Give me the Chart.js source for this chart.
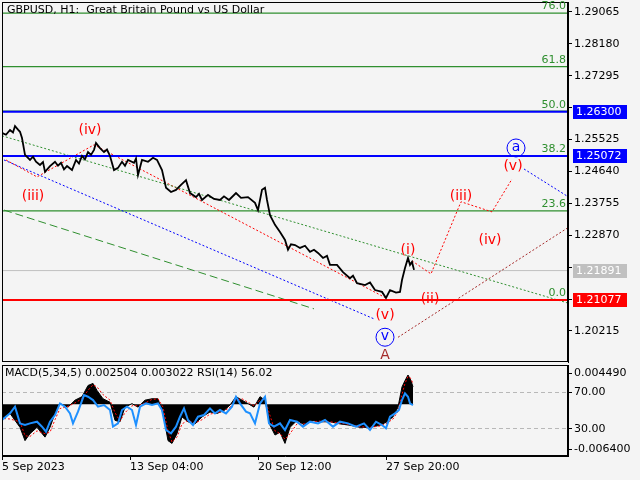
<!DOCTYPE html>
<html><head><meta charset="utf-8">
<script src="https://cdn.jsdelivr.net/npm/chart.js@4/dist/chart.umd.min.js"></script>
<style>
html,body{margin:0;padding:0;background:#f4f4f4;width:640px;height:480px;overflow:hidden}
canvas{position:absolute;left:0}
#c1{top:0}#c2{top:364px}
</style></head><body>
<canvas id="c1" width="640" height="364"></canvas>
<canvas id="c2" width="640" height="116"></canvas>
<script>
// ---- data ----
const priceX = [2,6,10,13,15,18,20,22,25,30,33,36,40,43,45,50,55,58,61,64,67,72,76,79,82,85,88,91,94,96,100,104,107,110,114,118,122,125,128,134,136,138,142,148,153,157,162,166,171,176,181,186,190,196,199,202,208,214,220,224,229,236,241,248,255,258,262,265,267,270,275,280,285,288,291,295,300,305,310,314,318,323,327,330,337,343,350,353,357,365,370,375,382,386,390,396,400,402,405,408,410,412,414];
const priceClose = [1.2571,1.2566,1.2579,1.2572,1.2590,1.2580,1.2574,1.2557,1.2510,1.2496,1.2505,1.2491,1.2482,1.2490,1.2463,1.2479,1.2491,1.2480,1.2488,1.2470,1.2479,1.2468,1.2496,1.2486,1.2507,1.2498,1.2518,1.2510,1.2524,1.2543,1.2529,1.2518,1.2525,1.2507,1.2468,1.2474,1.2491,1.2480,1.2496,1.2488,1.2500,1.2454,1.2496,1.2491,1.2502,1.2496,1.2468,1.2419,1.2407,1.2413,1.2427,1.2440,1.2404,1.2393,1.2402,1.2385,1.2399,1.2388,1.2385,1.2395,1.2385,1.2404,1.2391,1.2393,1.2377,1.2357,1.2413,1.2419,1.2385,1.2343,1.2316,1.2296,1.2274,1.2247,1.2262,1.2260,1.2252,1.2258,1.2241,1.2247,1.2238,1.2224,1.2230,1.2205,1.2205,1.2185,1.2168,1.2175,1.2154,1.2149,1.2156,1.2135,1.2130,1.2113,1.2135,1.2128,1.2130,1.2163,1.2196,1.2224,1.2205,1.2213,1.2191];
const fibLevels = [0,23.6,38.2,50,61.8,76];
const fibBase = 1.21077, fibTop = 1.31547;
const priceTicks = [1.29065,1.28180,1.27295,1.26410,1.25525,1.24640,1.23755,1.22870,1.21985,1.21100,1.20215];
const blueLevels = [1.26300,1.25072];
const redLevel = 1.21077;
const lastPrice = 1.21891;
const greenChannel = [[2,1.2563],[568,1.2099]];
const blueChannel = [[4,1.2496],[375,1.2054]];
const greenLong = [[4,1.2357],[314,1.2083]];
const waveRed = [[6,1.2496],[37,1.2449],[94,1.2538],[386,1.2113]];
const projRed = [[412,1.2216],[431,1.2180],[461,1.2380],[492,1.2352],[512,1.2443]];
const blueProj = [[524,1.2471],[567,1.2396]];
const darkRedProj = [[398,1.2004],[569,1.2310]];
const waveLabels = [
 {t:'(iv)',x:90,y:1.2579,c:'#ff0000'},{t:'(iii)',x:33,y:1.2396,c:'#ff0000'},
 {t:'(v)',x:385,y:1.2066,c:'#ff0000'},{t:'v',x:385,y:1.2007,c:'#0000ff',circ:true},
 {t:'A',x:385,y:1.1953,c:'#a52a2a'},{t:'(i)',x:408,y:1.2246,c:'#ff0000'},
 {t:'(ii)',x:430,y:1.2110,c:'#ff0000'},{t:'(iii)',x:461,y:1.2396,c:'#ff0000'},
 {t:'(iv)',x:490,y:1.2274,c:'#ff0000'},{t:'(v)',x:513,y:1.2477,c:'#ff0000'},
 {t:'a',x:516,y:1.2532,c:'#0000ff',circ:true}];
const lowX = [0,10,20,25,30,37,45,50,55,60,68,75,82,88,93,97,103,110,115,120,125,132,138,145,152,158,163,168,172,177,182,188,195,202,210,217,224,230,236,242,248,254,260,265,270,275,280,285,290,297,305,312,320,330,340,350,360,370,380,387,393,398,402,405,408,411,413];
const macdHist = [-0.0023,-0.0013,-0.0033,-0.0052,-0.0042,-0.0033,-0.0047,-0.0033,-0.0013,0.0001,-0.0004,0.0006,0.0011,0.0027,0.0030,0.0020,0.0008,0.0003,-0.0023,-0.0025,-0.0004,0.0001,-0.0004,0.0006,0.0008,0.0008,-0.0013,-0.0052,-0.0056,-0.0042,-0.0018,-0.0025,-0.0028,-0.0018,-0.0011,-0.0013,-0.0009,-0.0001,0.0011,0.0006,0.0001,-0.0004,0.0011,0.0006,-0.0030,-0.0044,-0.0040,-0.0056,-0.0033,-0.0023,-0.0030,-0.0023,-0.0025,-0.0025,-0.0028,-0.0030,-0.0033,-0.0033,-0.0030,-0.0025,-0.0018,-0.0004,0.0025,0.0034,0.0042,0.0034,0.0025];
const macdSignal = [-0.0020,-0.0021,-0.0025,-0.0045,-0.0046,-0.0038,-0.0042,-0.0040,-0.0022,-0.0006,-0.0003,0.0002,0.0008,0.0020,0.0028,0.0025,0.0014,0.0006,-0.0012,-0.0024,-0.0012,-0.0002,-0.0002,0.0002,0.0007,0.0008,-0.0004,-0.0038,-0.0054,-0.0047,-0.0028,-0.0023,-0.0027,-0.0022,-0.0014,-0.0012,-0.0010,-0.0004,0.0006,0.0008,0.0003,-0.0002,0.0006,0.0008,-0.0016,-0.0038,-0.0042,-0.0050,-0.0042,-0.0028,-0.0028,-0.0025,-0.0024,-0.0025,-0.0027,-0.0029,-0.0032,-0.0033,-0.0031,-0.0027,-0.0021,-0.0010,0.0014,0.0030,0.0040,0.0037,0.0029];
const rsiX = [2,10,15,20,25,30,37,42,46,50,55,60,65,70,73,78,84,88,93,98,104,110,113,118,122,127,132,136,140,146,152,158,162,166,171,176,180,184,188,193,198,204,210,215,220,226,232,236,240,246,250,255,260,265,269,274,280,285,290,297,303,310,318,325,333,340,348,356,364,370,376,382,386,390,395,399,402,405,408,410,413];
const rsiVals = [39.7,46.9,54.1,36.1,34.3,36.1,37.9,32.5,27.1,37.9,45.1,57.7,54.1,46.9,36.1,48.7,66.7,64.9,61.3,54.1,55.9,50.5,32.5,36.1,50.5,54.1,50.5,34.3,54.1,57.7,55.9,57.7,50.5,28.9,25.3,32.5,43.3,52.3,39.7,34.3,43.3,45.1,52.3,46.9,50.5,46.9,54.1,64.9,57.7,48.7,46.9,36.1,57.7,64.9,36.1,32.5,36.1,28.9,39.7,37.9,32.5,37.9,36.1,39.7,32.5,37.9,36.1,32.5,36.1,28.9,37.9,34.3,30.7,43.3,46.9,50.5,61.3,68.5,64.9,57.7,55.9];
const dateTicks = [2,130,258,386];
const dateLabels = ['5 Sep 2023','13 Sep 04:00','20 Sep 12:00','27 Sep 20:00'];
const title = 'GBPUSD, H1:  Great Britain Pound vs US Dollar';
const subTitle = 'MACD(5,34,5) 0.002504 0.003022 RSI(14) 56.02';

// ---- rendering ----
const FONT = '"DejaVu Sans", sans-serif';
Chart.defaults.font.family = FONT;
Chart.defaults.font.size = 10;
Chart.defaults.color = '#000';
const pts = a => a.map(p => ({x:p[0], y:p[1]}));
const hline = (v,col,w,ord) => ({data:[{x:2,y:v},{x:568,y:v}],borderColor:col,borderWidth:w,pointRadius:0,order:ord});
const fibGreen = '#2f8f2f';
const fibVal = l => fibBase + (fibTop-fibBase)*l/100;
const yMin = 1.19355, yMax = 1.29342;
const boxLevels = [...blueLevels, lastPrice, redLevel];

const frame = {id:'frame', afterDraw(c){const a=c.chartArea,x=c.ctx;x.save();x.strokeStyle='#000';x.lineWidth=1;x.strokeRect(a.left+0.5,a.top+0.5,a.right-a.left-1,a.bottom-a.top-1);x.restore();}};
const noPad = s => {s.paddingTop=0;s.paddingBottom=0;s.paddingLeft=0;s.paddingRight=0;};

const mainPlugin = {id:'mainlabels', afterDraw(c){
  const x=c.ctx, sx=c.scales.x, sy=c.scales.y, a=c.chartArea;
  x.save();
  x.font='11px '+FONT; x.textAlign='right'; x.textBaseline='bottom'; x.fillStyle=fibGreen;
  fibLevels.forEach(l=>x.fillText(l.toFixed(1), a.right-2, sy.getPixelForValue(fibVal(l))-1));
  x.beginPath(); x.rect(a.left,a.top,a.right-a.left,a.bottom-a.top); x.clip();
  x.font='14px '+FONT; x.textAlign='center'; x.textBaseline='middle';
  waveLabels.forEach(w=>{const px=sx.getPixelForValue(w.x), py=sy.getPixelForValue(w.y);
    x.fillStyle=w.c; x.fillText(w.t,px,py);
    if(w.circ){x.strokeStyle=w.c;x.lineWidth=1;x.beginPath();x.arc(px,py+1,9,0,Math.PI*2);x.stroke();}});
  x.restore();
  x.save();
  x.font='11px '+FONT; x.textBaseline='top'; x.textAlign='left'; x.fillStyle='#000';
  x.fillText(title, 7, 5);
  const box=(v,bg)=>{const py=Math.round(sy.getPixelForValue(v));x.fillStyle=bg;x.fillRect(573,py-7,54,14);
    x.fillStyle='#fff';x.textBaseline='middle';x.font='11px '+FONT;x.fillText(v.toFixed(5),576,py+0.5);};
  blueLevels.forEach(v=>box(v,'#0000ff'));
  box(lastPrice,'#c0c0c0'); box(redLevel,'#ff0000');
  x.restore();
}};

new Chart(document.getElementById('c1'),{type:'line',
 data:{datasets:[
  ...fibLevels.map(l=>hline(fibVal(l),fibGreen,1.2,8)),
  hline(lastPrice,'#c0c0c0',1,7),
  ...blueLevels.map(v=>hline(v,'#0000ff',2,2)),
  hline(redLevel,'#ff0000',2,2),
  {data:pts(greenChannel),borderColor:fibGreen,borderWidth:1,borderDash:[2,2],pointRadius:0,order:4},
  {data:pts(blueChannel),borderColor:'#0000ff',borderWidth:1,borderDash:[2,2],pointRadius:0,order:4},
  {data:pts(greenLong),borderColor:fibGreen,borderWidth:1,borderDash:[8,4],pointRadius:0,order:4},
  {data:pts(waveRed),borderColor:'#ff0000',borderWidth:1,borderDash:[2,2],pointRadius:0,order:4},
  {data:pts(projRed),borderColor:'#ff0000',borderWidth:1,borderDash:[2,2],pointRadius:0,order:4},
  {data:pts(blueProj),borderColor:'#0000ff',borderWidth:1,borderDash:[2,2],pointRadius:0,order:4},
  {data:pts(darkRedProj),borderColor:'#a52a2a',borderWidth:1,borderDash:[2,2],pointRadius:0,order:4},
  {data:priceX.map((v,i)=>({x:v,y:priceClose[i]})),borderColor:'#000',borderWidth:1.8,pointRadius:0,order:0}
 ]},
 options:{responsive:false,animation:false,devicePixelRatio:1,
  layout:{padding:{left:2,top:2,bottom:2,right:0}},
  plugins:{legend:{display:false},tooltip:{enabled:false}},
  scales:{
   x:{type:'linear',min:2,max:568,display:false},
   y:{position:'right',min:yMin,max:yMax,
     afterBuildTicks(s){s.ticks=priceTicks.map(v=>({value:v}));},
     afterFit(s){s.width=72;noPad(s);},
     border:{color:'#000'},
     grid:{drawOnChartArea:false,tickLength:4,color:'#000'},
     ticks:{padding:2,font:{size:11},callback:v=>boxLevels.some(b=>Math.abs(b-v)<0.0015)?'':v.toFixed(5)}}
  }},
 plugins:[frame,mainPlugin]});

// lower panel
const mMin=-0.007403, mMax=0.005637, rMin=0.8, rMax=99.2;
const m2r = v => rMin+(v-mMin)/(mMax-mMin)*(rMax-rMin);
const lowTicks=[{v:m2r(0.00449),t:'0.004490'},{v:70,t:'70.00'},{v:30,t:'30.00'},{v:m2r(-0.0064),t:'-0.006400'}];
const lowPlugin={id:'low',afterDraw(c){const x=c.ctx;x.save();x.font='11px '+FONT;x.fillStyle='#000';x.textBaseline='top';x.fillText(subTitle,5,4);x.restore();}};
new Chart(document.getElementById('c2'),{type:'line',
 data:{datasets:[
  {data:lowX.map((v,i)=>({x:v,y:macdHist[i]})),yAxisID:'macd',borderColor:'#000',backgroundColor:'#000',borderWidth:1,pointRadius:0,fill:{value:0},order:3},
  {data:lowX.map((v,i)=>({x:v,y:macdSignal[i]})),yAxisID:'macd',borderColor:'#ff0000',borderWidth:1,borderDash:[2,2],pointRadius:0,order:2},
  {data:rsiX.map((v,i)=>({x:v,y:rsiVals[i]})),yAxisID:'rsi',borderColor:'#1e90ff',borderWidth:2,pointRadius:0,order:1}
 ]},
 options:{responsive:false,animation:false,devicePixelRatio:1,
  layout:{padding:{left:2,top:1,right:0,bottom:0}},
  plugins:{legend:{display:false},tooltip:{enabled:false}},
  scales:{
   x:{type:'linear',min:2,max:568,
     afterBuildTicks(s){s.ticks=dateTicks.map(v=>({value:v}));},
     afterFit(s){s.height=24;noPad(s);},
     border:{color:'#000'},
     grid:{drawOnChartArea:false,tickLength:4,color:'#000'},
     ticks:{align:'start',maxRotation:0,autoSkip:false,padding:1,font:{size:11},callback:(v)=>dateLabels[dateTicks.indexOf(v)]}},
   macd:{type:'linear',min:mMin,max:mMax,display:false},
   rsi:{type:'linear',position:'right',min:rMin,max:rMax,
     afterBuildTicks(s){s.ticks=lowTicks.map(t=>({value:t.v}));},
     afterFit(s){s.width=72;noPad(s);},
     border:{color:'#000',dash:[4,3]},
     grid:{drawOnChartArea:true,tickLength:4,
       color:ctx=>(ctx.tick&&(ctx.tick.value===70||ctx.tick.value===30))?'#b8b8b8':'rgba(0,0,0,0)',
       tickColor:'#000'},
     ticks:{padding:2,font:{size:11},callback:v=>{const t=lowTicks.find(k=>k.v===v);return t?t.t:'';}}}
  }},
 plugins:[frame,lowPlugin]});
</script></body></html>
